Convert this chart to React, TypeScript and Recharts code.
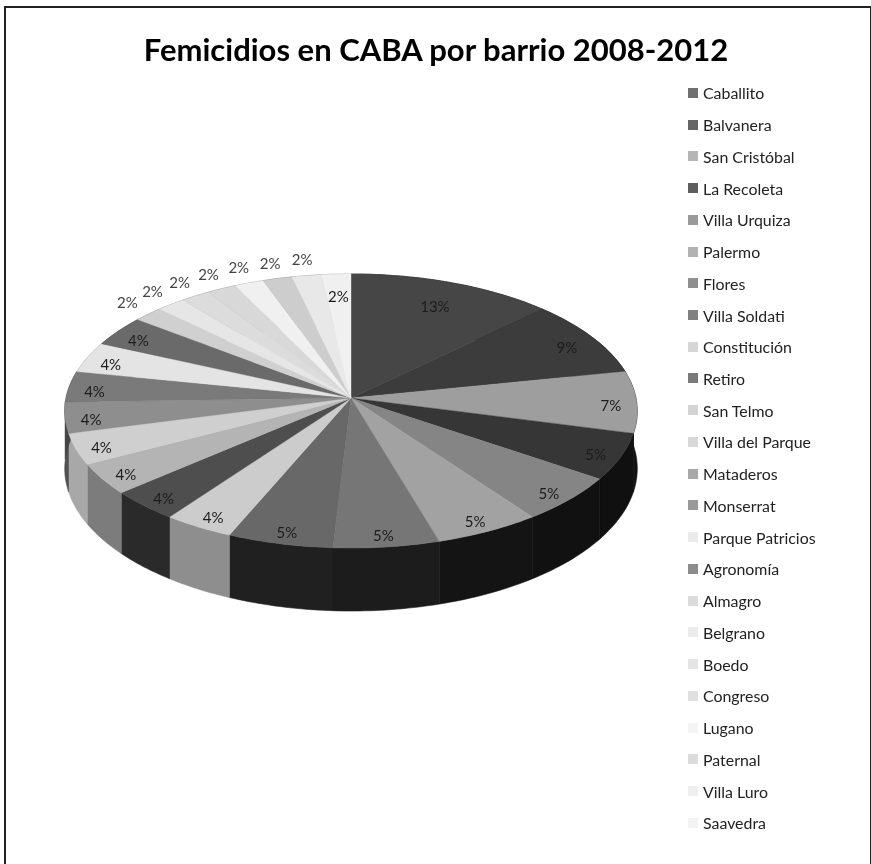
import React from 'react';
import { PieChart, Pie, Legend } from 'recharts';

const barrios = [
  'Caballito', 'Balvanera', 'San Cristóbal', 'La Recoleta', 'Villa Urquiza', 'Palermo',
  'Flores', 'Villa Soldati', 'Constitución', 'Retiro', 'San Telmo', 'Villa del Parque',
  'Mataderos', 'Monserrat', 'Parque Patricios', 'Agronomía', 'Almagro', 'Belgrano',
  'Boedo', 'Congreso', 'Lugano', 'Paternal', 'Villa Luro', 'Saavedra'
];

const casos = [7, 5, 4, 3, 3, 3, 3, 3, 2, 2, 2, 2, 2, 2, 2, 2, 1, 1, 1, 1, 1, 1, 1, 1];

const topColors = [
  '#464646', '#3c3c3c', '#9e9e9e', '#363636', '#858585', '#a2a2a2', '#767676', '#686868',
  '#cccccc', '#4e4e4e', '#b4b4b4', '#cfcfcf', '#8e8e8e', '#7a7a7a', '#e4e4e4', '#6a6a6a',
  '#d0d0d0', '#e6e6e6', '#dcdcdc', '#d8d8d8', '#f0f0f0', '#cdcdcd', '#e8e8e8', '#f0f0f0'
];

const wallColors = [
  '#1a1a1a', '#161616', '#121212', '#101010', '#111111', '#141414', '#1c1c1c', '#202020',
  '#8e8e8e', '#2a2a2a', '#7c7c7c', '#a8a8a8', '#505050', '#444444', '#888888', '#3a3a3a',
  '#777777', '#888888', '#808080', '#7c7c7c', '#909090', '#767676', '#888888', '#909090'
];

const legendColors = [
  '#707070', '#666666', '#b5b5b5', '#5e5e5e', '#9a9a9a', '#b2b2b2', '#8f8f8f', '#808080',
  '#d6d6d6', '#7a7a7a', '#d4d4d4', '#d8d8d8', '#a8a8a8', '#999999', '#ebebeb', '#8c8c8c',
  '#dcdcdc', '#ececec', '#e4e4e4', '#e0e0e0', '#f4f4f4', '#dcdcdc', '#efefef', '#f3f3f3'
];

const topRows = barrios.map((name, i) => ({ name, value: casos[i], fill: topColors[i] }));
const wallRows = barrios.map((name, i) => ({ name, value: casos[i], fill: wallColors[i] }));

const CX = 351;
const CY = 398;
const RX = 285;
const RY = 135.8;
const PERSP = 0.0949;
const DEPTH = 57;
const FONT = 'Lato, "Open Sans", sans-serif';

// Excel's 3D pie: a circle seen in perspective, so far half is flatter than the near one
const project = (angle: number, f = 1, drop = 0) => {
  const t = (angle * Math.PI) / 180;
  const w = 1 + PERSP * f * Math.sin(t);
  return {
    x: CX + (RX * f * Math.cos(t)) / w,
    y: CY - (RY * f * Math.sin(t)) / w + drop / w
  };
};

const arcPoints = (start: number, end: number, drop = 0) => {
  const steps = Math.max(2, Math.ceil(Math.abs(start - end)));
  const pts = [];
  for (let i = 0; i <= steps; i++) {
    pts.push(project(start + ((end - start) * i) / steps, 1, drop));
  }
  return pts;
};

const toPath = (pts: { x: number; y: number }[]) =>
  pts.map((p, i) => `${i === 0 ? 'M' : 'L'}${p.x.toFixed(1)},${p.y.toFixed(1)}`).join(' ');

const TopSlice = (props: any) => {
  const pts = arcPoints(props.startAngle, props.endAngle);
  return (
    <path
      d={`M${CX},${CY} ${toPath(pts).replace('M', 'L')} Z`}
      fill={props.fill}
      stroke={props.fill}
      strokeWidth={0.4}
    />
  );
};

const WallSlice = (props: any) => {
  const upper = arcPoints(props.startAngle, props.endAngle);
  const lower = arcPoints(props.startAngle, props.endAngle, DEPTH).reverse();
  return (
    <path
      d={`${toPath(upper)} ${toPath(lower).replace('M', 'L')} Z`}
      fill={props.fill}
      stroke={props.fill}
      strokeWidth={0.6}
    />
  );
};

const labelRadius = (pct: number, last: boolean) => {
  if (last) return 0.84;
  if (pct <= 2) return 1.11;
  if (pct >= 13) return 0.81;
  if (pct >= 9) return 0.89;
  return 0.91;
};

const renderLabel = (props: any) => {
  const pct = Math.round(props.percent * 100);
  const last = props.index === barrios.length - 1;
  const outside = pct <= 2 && !last;
  const p = project(props.midAngle, labelRadius(pct, last));
  return (
    <text
      x={p.x}
      y={outside ? p.y - 4 : p.y + 3}
      textAnchor="middle"
      dominantBaseline="central"
      fontFamily={FONT}
      fontSize={15}
      fill={outside ? '#444444' : '#1c1c1c'}
    >
      {pct}%
    </text>
  );
};

const renderLegend = (props: any) => {
  // both pies feed the legend, one row per barrio is enough
  const rows = (props.payload ?? []).filter(
    (entry: any, i: number, all: any[]) => all.findIndex((e) => e.value === entry.value) === i
  );
  return (
    <div>
      {rows.map((entry: any, i: number) => (
        <div
          key={entry.value}
          style={{ height: 31.74, display: 'flex', alignItems: 'center', whiteSpace: 'nowrap' }}
        >
          <span style={{ width: 10, height: 10, background: legendColors[i], marginRight: 5 }} />
          <span style={{ fontFamily: FONT, fontSize: 15.9, color: '#222222' }}>{entry.value}</span>
        </div>
      ))}
    </div>
  );
};

export default function App() {
  return (
    <div style={{ position: 'fixed', left: 0, top: 0, width: 871, height: 864, background: '#fff' }}>
      <div
        style={{
          position: 'absolute',
          left: 4,
          top: 6,
          width: 864,
          height: 858,
          borderLeft: '2px solid #222',
          borderTop: '2px solid #222',
          borderRight: '2px solid #222'
        }}
      />
      <div style={{ filter: 'blur(0.4px)' }}>
        <PieChart width={871} height={864} margin={{ top: 0, right: 0, bottom: 0, left: 0 }}>
          <text
            x={436}
            y={61}
            textAnchor="middle"
            fontFamily={FONT}
            fontWeight={700}
            fontSize={31}
            fill="#000000"
          >
            Femicidios en CABA por barrio 2008-2012
          </text>
          <Pie
            data={wallRows}
            dataKey="value"
            nameKey="name"
            cx={CX}
            cy={CY}
            outerRadius={RX}
            startAngle={90}
            endAngle={-270}
            stroke="none"
            legendType="none"
            isAnimationActive={false}
            shape={WallSlice}
          />
          <Pie
            data={topRows}
            dataKey="value"
            nameKey="name"
            cx={CX}
            cy={CY}
            outerRadius={RX}
            startAngle={90}
            endAngle={-270}
            stroke="none"
            isAnimationActive={false}
            shape={TopSlice}
            label={renderLabel}
            labelLine={false}
          />
          <Legend
            layout="vertical"
            itemSorter={null}
            content={renderLegend}
            wrapperStyle={{ left: 688, top: 77, width: 170, bottom: 'auto', right: 'auto' }}
          />
        </PieChart>
      </div>
    </div>
  );
}
